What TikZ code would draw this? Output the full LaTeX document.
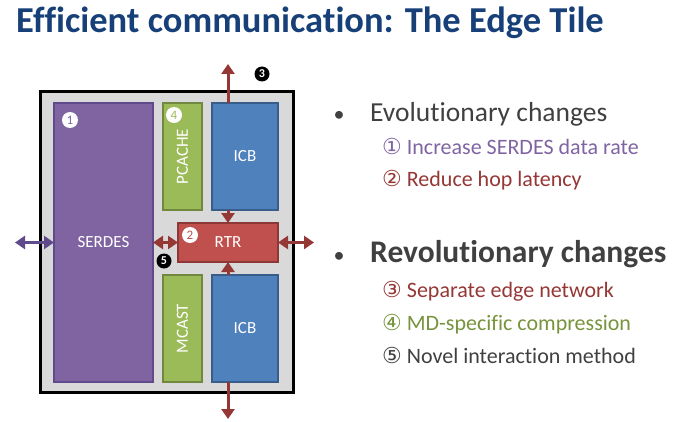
\documentclass[tikz,border=0pt]{standalone}
\usepackage{fontspec}
\setmainfont{Carlito}[Ligatures=NoCommon]
\newfontfamily\circfont{DejaVu Sans}
\usetikzlibrary{arrows.meta}

\definecolor{titleblue}{RGB}{23,64,120}
\definecolor{darktext}{RGB}{64,64,64}
\definecolor{tilegray}{RGB}{217,217,217}
\definecolor{purpfill}{RGB}{128,100,162}
\definecolor{purpline}{RGB}{95,75,139}
\definecolor{greenfill}{RGB}{155,187,89}
\definecolor{greenline}{RGB}{113,137,63}
\definecolor{bluefill}{RGB}{79,129,189}
\definecolor{blueline}{RGB}{56,93,138}
\definecolor{redfill}{RGB}{192,80,77}
\definecolor{redline}{RGB}{140,56,54}
\definecolor{arrowred}{RGB}{149,55,53}
\definecolor{greentext}{RGB}{119,147,60}

\newcommand{\circno}[1]{{\circfont\fontsize{22}{24}\selectfont #1}}

\begin{document}
\begin{tikzpicture}[x=1pt,y=1pt,yscale=-1,
  block/.style={draw, line width=2pt, rectangle, anchor=north west, inner sep=0pt, outer sep=0pt, text=white, font=\fontsize{17}{20}\selectfont},
  numw/.style={circle, fill=white, inner sep=0pt, minimum size=16pt, font=\fontsize{13}{13}\selectfont},
  numb/.style={circle, fill=black, text=white, inner sep=0pt, minimum size=15pt, font=\fontsize{12}{12}\selectfont\bfseries},
  link/.style={draw=arrowred, line width=3pt, -{Triangle[width=13pt,length=10pt]}},
  dlink/.style={link, {Triangle[width=13pt,length=10pt]}-{Triangle[width=13pt,length=10pt]}},
  item/.style={anchor=base west, inner sep=0pt, font=\fontsize{22}{26}\selectfont}
]
\useasboundingbox (0,0) rectangle (679,422);

% Title
\node[anchor=base west, inner sep=0pt, text=titleblue, font=\fontsize{36.5}{40}\selectfont\bfseries] (title) at (16,33) {Efficient communication: The Edge Tile};

% Edge tile
\node[block, draw=black, line width=3pt, fill=tilegray, minimum width=253pt, minimum height=300pt] (tile) at (40,92) {};
\node[block, draw=purpline, fill=purpfill, minimum width=99pt, minimum height=279pt] (serdes) at (54,103) {SERDES};
\node[block, draw=greenline, fill=greenfill, minimum width=39pt, minimum height=107pt] (pcache) at (163,103) {\rotatebox{90}{PCACHE}};
\node[block, draw=blueline, fill=bluefill, minimum width=66pt, minimum height=107pt] (icbtop) at (212,103) {ICB};
\node[block, draw=redline, fill=redfill, minimum width=100pt, minimum height=39pt] (rtr) at (178,223) {RTR};
\node[block, draw=greenline, fill=greenfill, minimum width=39pt, minimum height=107pt] (mcast) at (163,275) {\rotatebox{90}{MCAST}};
\node[block, draw=blueline, fill=bluefill, minimum width=66pt, minimum height=107pt] (icbbot) at (212,275) {ICB};

% free ends
\coordinate (up) at (228,64);
\coordinate (down) at (228,419);
\coordinate (west) at (15,242.5);
\coordinate (east) at (314,242.5);

% Arrows
\draw[link] (rtr.north |- icbtop.north) -- (up);
\draw[link] (rtr.north |- icbtop.south) -- (rtr.north);
\draw[link] (rtr.south |- icbbot.north) -- (rtr.south);
\draw[link] (rtr.south |- icbbot.south) -- (down);
\draw[dlink, draw=purpline] (west) -- (serdes.west);
\draw[dlink] (serdes.east) -- (rtr.west);
\draw[dlink] (rtr.east) -- (east);

% Markers
\node[numw, text=purpfill] (m1) at (70,120) {1};
\node[numw, text=redfill] (m2) at (190,235) {2};
\node[numb] (m3) at (262,74) {3};
\node[numw, text=greenfill] (m4) at (174,115) {4};
\node[numb] (m5) at (164,261) {5};

% Bullets
\node[anchor=base, inner sep=0pt, text=darktext, font=\fontsize{22}{24}\selectfont] (b1) at (339,122) {•};
\node[anchor=base west, inner sep=0pt, text=darktext, font=\fontsize{27.5}{30}\selectfont] (evol) at (370,122) {Evolutionary changes};
\node[item, text=purpfill] (i1) at (382,154) {\circno{①} Increase SERDES data rate};
\node[item, text=arrowred] (i2) at (382,186) {\circno{②} Reduce hop latency};
\node[anchor=base, inner sep=0pt, text=darktext, font=\fontsize{22}{24}\selectfont] (b2) at (339,262) {•};
\node[anchor=base west, inner sep=0pt, text=darktext, font=\fontsize{31.5}{34}\selectfont\bfseries] (revol) at (370,262) {Revolutionary changes};
\node[item, text=arrowred] (i3) at (382,297) {\circno{③} Separate edge network};
\node[item, text=greentext] (i4) at (382,330) {\circno{④} MD-specific compression};
\node[item, text=darktext] (i5) at (382,363) {\circno{⑤} Novel interaction method};

\end{tikzpicture}
\end{document}
